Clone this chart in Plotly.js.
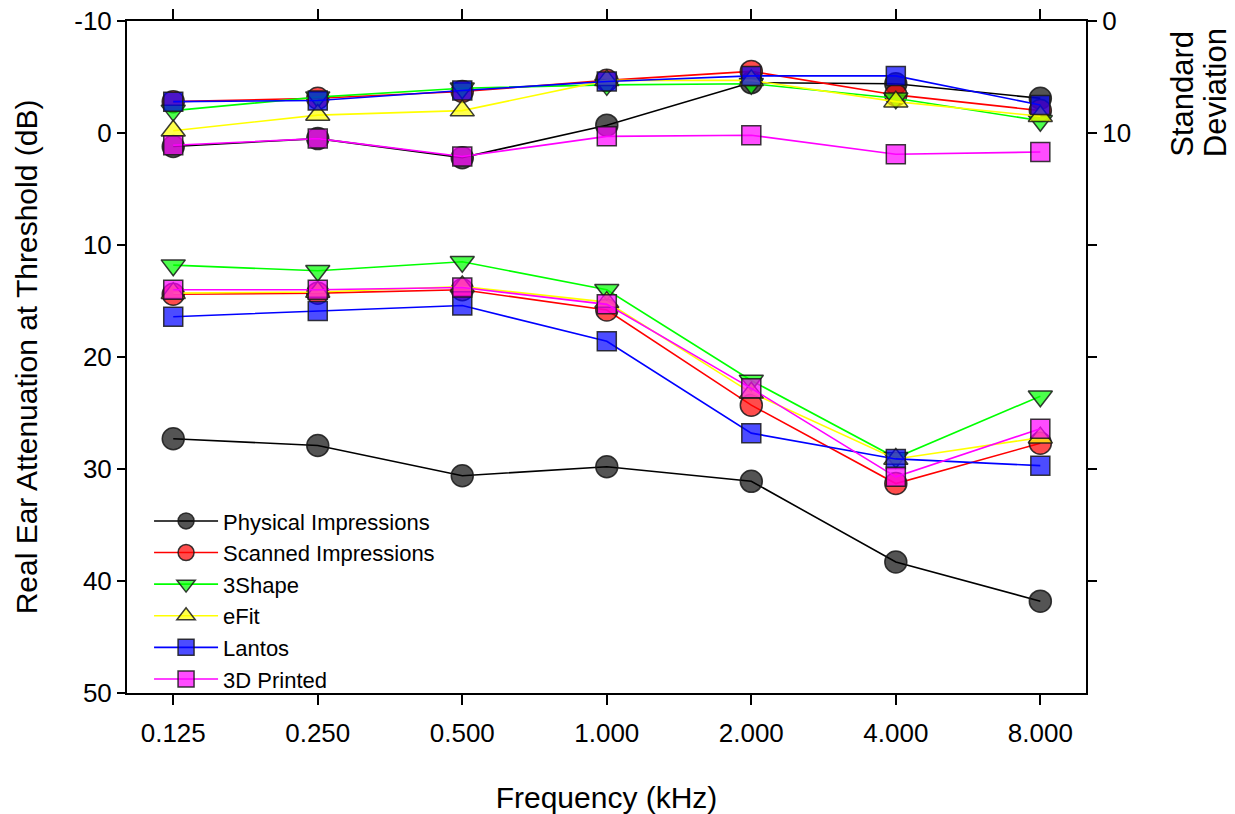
<!DOCTYPE html>
<html>
<head>
<meta charset="utf-8">
<script src="https://cdn.plot.ly/plotly-3.0.1.min.js"></script>
<style>html,body{margin:0;padding:0;background:#fff}#chart{width:1235px;height:814px}</style>
</head>
<body>
<div id="chart"></div>
<script>
// Frequency categories (kHz)
var frequencies = ["0.125", "0.250", "0.500", "1.000", "2.000", "4.000", "8.000"];
var seriesNames = ["Physical Impressions", "Scanned Impressions", "3Shape", "eFit", "Lantos", "3D Printed"];

// Mean real ear attenuation at threshold (dB) - left axis
var meanPhysical = [27.3, 27.9, 30.6, 29.8, 31.1, 38.3, 41.8];
var meanScanned  = [14.4, 14.3, 14.0, 15.8, 24.3, 31.3, 27.7];
var mean3Shape   = [11.8, 12.3, 11.5, 14.0, 22.1, 29.0, 23.5];
var meanEFit     = [14.3, 14.2, 13.7, 15.1, 23.2, 29.1, 27.2];
var meanLantos   = [16.4, 15.9, 15.4, 18.6, 26.8, 29.1, 29.7];
var mean3DPrint  = [14.0, 14.0, 13.8, 15.3, 22.8, 30.7, 26.4];

// Standard deviations (dB) - right axis
var sdPhysical = [11.2, 10.5, 12.2, 9.3, 5.5, 5.6, 6.9];
var sdScanned  = [7.2, 6.9, 6.3, 5.3, 4.5, 6.6, 8.0];
var sd3Shape   = [8.0, 6.8, 6.0, 5.7, 5.6, 6.9, 8.9];
var sdEFit     = [9.8, 8.4, 8.0, 5.3, 5.3, 7.2, 8.5];
var sdLantos   = [7.2, 7.1, 6.2, 5.4, 4.9, 4.9, 7.5];
var sd3DPrint  = [11.1, 10.5, 12.1, 10.3, 10.2, 11.9, 11.7];

var leftTicks = [-10, 0, 10, 20, 30, 40, 50];
var leftTickText = ["-10", "0", "10", "20", "30", "40", "50"];
var rightTicks = [0, 10, 20, 30, 40, 50];
var rightTickText = ["0", "10", "", "", "", ""];

var means = [meanPhysical, meanScanned, mean3Shape, meanEFit, meanLantos, mean3DPrint];
var sds = [sdPhysical, sdScanned, sd3Shape, sdEFit, sdLantos, sd3DPrint];

var lineColors = ["#000000", "#ff0000", "#00ff00", "#ffff00", "#0000ff", "#ff00ff"];
var fillColors = ["rgba(0,0,0,0.67)", "rgba(255,0,0,0.7)", "rgba(0,255,0,0.7)", "rgba(255,255,0,0.7)", "rgba(0,0,255,0.7)", "rgba(255,0,255,0.7)"];
var symbols = ["circle", "circle", "triangle-down", "triangle-up", "square", "square"];
var sizes = [22, 22, 21, 21, 19, 19];

var FONT = "Liberation Sans, Arial, sans-serif";
var traces = [];
for (var i = 0; i < seriesNames.length; i++) {
  var common = {
    type: "scatter", mode: "lines+markers", x: frequencies,
    line: {color: lineColors[i], width: 1.6},
    marker: {symbol: symbols[i], size: sizes[i], color: fillColors[i],
             line: {color: "rgba(25,25,25,0.85)", width: 1.5}},
    legendgroup: "g" + i, name: seriesNames[i], hoverinfo: "x+y+name"
  };
  traces.push(Object.assign({}, common, {y: means[i], yaxis: "y", showlegend: true}));
  traces.push(Object.assign({}, common, {y: sds[i], yaxis: "y2", showlegend: false}));
}

var layout = {
  width: 1235, height: 814,
  margin: {l: 127, r: 149, t: 21, b: 121},
  paper_bgcolor: "#fff", plot_bgcolor: "#fff",
  font: {family: FONT, size: 25, color: "#000"},
  showlegend: true,
  legend: {x: 0.023, y: 0.287, xanchor: "left", yanchor: "top",
           bgcolor: "rgba(0,0,0,0)", borderwidth: 0, tracegroupgap: 0,
           itemwidth: 64, font: {family: FONT, size: 22, color: "#000"}},
  xaxis: {
    type: "category", range: [-0.32, 6.316],
    showline: true, linecolor: "#000", linewidth: 2, mirror: "ticks",
    ticks: "outside", ticklen: 10, tickwidth: 2, tickcolor: "#000",
    ticklabelstandoff: 6,
    showgrid: false, zeroline: false,
    tickfont: {family: FONT, size: 26, color: "#000"},
    title: {text: "Frequency (kHz)", font: {family: FONT, size: 30, color: "#000"}, standoff: 40}
  },
  yaxis: {
    range: [50, -10], tickvals: leftTicks, ticktext: leftTickText,
    showline: true, linecolor: "#000", linewidth: 2,
    ticks: "outside", ticklen: 8, tickwidth: 2, tickcolor: "#000",
    showgrid: false, zeroline: false,
    tickfont: {family: FONT, size: 26, color: "#000"},
    title: {text: "Real Ear Attenuation at Threshold (dB)", font: {family: FONT, size: 30, color: "#000"}, standoff: 28}
  },
  yaxis2: {
    overlaying: "y", side: "right", range: [60, 0],
    tickvals: rightTicks, ticktext: rightTickText,
    showline: true, linecolor: "#000", linewidth: 2,
    ticks: "outside", ticklen: 9, tickwidth: 2, tickcolor: "#000",
    showgrid: false, zeroline: false,
    tickfont: {family: FONT, size: 26, color: "#000"}
  },
  annotations: [{
    text: "Standard", xref: "paper", yref: "paper",
    x: 1.1011, y: 0.795, xanchor: "center", yanchor: "bottom", textangle: -90,
    showarrow: false, font: {family: FONT, size: 31, color: "#000"}
  }, {
    text: "Deviation", xref: "paper", yref: "paper",
    x: 1.1345, y: 0.795, xanchor: "center", yanchor: "bottom", textangle: -90,
    showarrow: false, font: {family: FONT, size: 31, color: "#000"}
  }]
};

Plotly.newPlot("chart", traces, layout, {staticPlot: true, displayModeBar: false});
</script>
</body>
</html>
